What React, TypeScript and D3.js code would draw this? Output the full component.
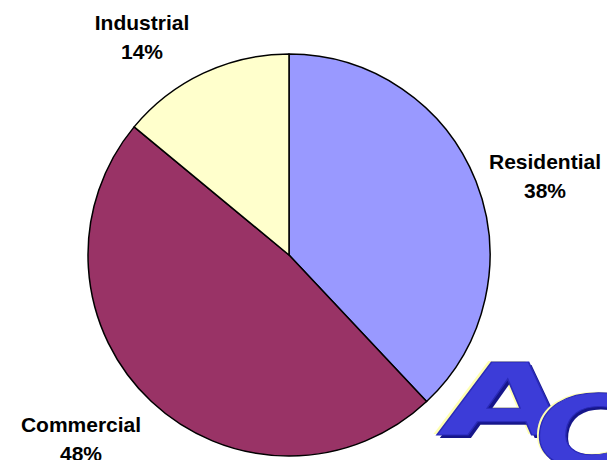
import * as d3 from "d3";
import { useEffect, useRef } from "react";

const categories = ["Residential", "Commercial", "Industrial"];
const shares = [38, 48, 14];
const colors = ["#9999ff", "#993366", "#ffffcc"];

// where Excel put each label (centre x, first baseline y)
const labelSpots: [number, number][] = [
  [545, 169],
  [81, 432],
  [142, 30],
];

const PieChart = () => {
  const ref = useRef<SVGSVGElement>(null);
  const width = 607;
  const height = 460;

  useEffect(() => {
    const svg = d3.select(ref.current);
    svg.selectAll("*").remove();

    const cx = 289;
    const cy = 255;
    const radius = 201;

    const pie = d3
      .pie<number>()
      .sort(null)
      .value((d) => d);
    const arc = d3.arc<d3.PieArcDatum<number>>().innerRadius(0).outerRadius(radius);

    const g = svg.append("g").attr("transform", `translate(${cx},${cy})`);
    g.selectAll("path")
      .data(pie(shares))
      .join("path")
      .attr("d", arc)
      .attr("fill", (_, i) => colors[i])
      .attr("stroke", "#000")
      .attr("stroke-width", 1.5)
      .attr("stroke-linejoin", "round");

    // labels
    const labels = svg
      .append("g")
      .attr("font-family", "Liberation Sans, Arial, sans-serif")
      .attr("font-weight", "bold")
      .attr("font-size", 21)
      .attr("fill", "#000")
      .attr("text-anchor", "middle");
    categories.forEach((c, i) => {
      const [lx, ly] = labelSpots[i];
      labels.append("text").attr("x", lx).attr("y", ly).text(c);
      labels
        .append("text")
        .attr("x", lx)
        .attr("y", ly + 28.5)
        .text(`${shares[i]}%`);
    });

    // "AC" logo in the corner
    const logo = svg.append("g").attr("font-family", "DejaVu Sans, sans-serif").attr("font-weight", "bold");
    const letter = (ch: string, x: number, y: number, sx: number) => {
      const t = logo.append("g").attr("transform", `translate(${x},${y}) skewX(-8) scale(${sx},1)`);
      t.append("text").attr("x", -2).attr("y", -1).attr("font-size", 100).attr("fill", "#ffffb0").text(ch);
      t.append("text").attr("x", 2).attr("y", 3).attr("font-size", 100).attr("fill", "#16168a").text(ch);
      t.append("text")
        .attr("font-size", 100)
        .attr("fill", "#3c3cd8")
        .attr("stroke", "#2a2ab8")
        .attr("stroke-width", 1)
        .text(ch);
    };
    letter("A", 436, 435, 1.65);
    letter("C", 528, 467, 1.35);
  }, []);

  return (
    <svg
      ref={ref}
      width={width}
      height={height}
      viewBox={`0 0 ${width} ${height}`}
      style={{ position: "absolute", left: 0, top: 0, background: "#fff" }}
    ></svg>
  );
};

export default function App() {
  return <PieChart />;
}
